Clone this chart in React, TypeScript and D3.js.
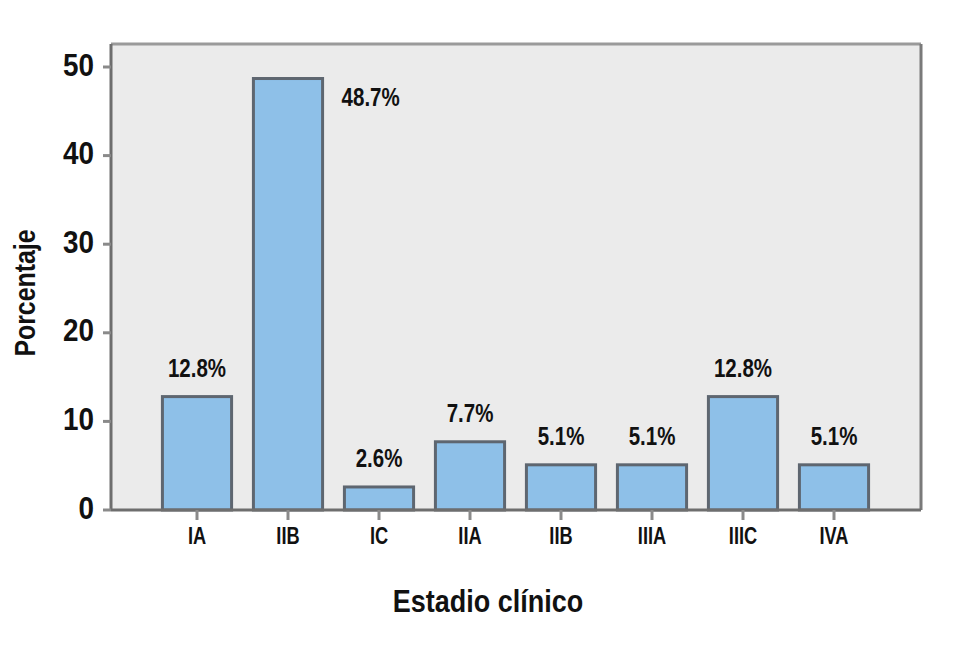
import React from "react";
import * as d3 from "d3";

const categories = ["IA", "IIB", "IC", "IIA", "IIB ", "IIIA", "IIIC", "IVA"];
const values = [12.8, 48.7, 2.6, 7.7, 5.1, 5.1, 12.8, 5.1];
const valueLabels = ["12.8%", "48.7%", "2.6%", "7.7%", "5.1%", "5.1%", "12.8%", "5.1%"];
const yTicks = [0, 10, 20, 30, 40, 50];

const FONT = "'Liberation Sans', Arial, Helvetica, sans-serif";

function Txt({ x, y, sx, size, anchor = "middle", rotate = 0, children }: any) {
  return (
    <text
      transform={`translate(${x},${y}) rotate(${rotate}) scale(${sx},1)`}
      textAnchor={anchor}
      fontFamily={FONT}
      fontWeight="bold"
      fontSize={size}
      fill="#111"
    >
      {children}
    </text>
  );
}

export default function App() {
  const W = 962, H = 654;
  const plotL = 111, plotR = 921, plotT = 44, plotB = 510;
  const y = d3.scaleLinear().domain([0, 50]).range([510, 67]);
  const x = d3.scaleBand<string>().domain(categories).range([151.5, 879.5]).paddingInner(0.24).paddingOuter(0.12);
  const bw = x.bandwidth();

  return (
    <svg width={W} height={H} style={{ position: "absolute", left: 0, top: 0, background: "#fff" }}>
      <rect x={plotL} y={plotT} width={plotR - plotL} height={plotB - plotT} fill="#ebebeb" />
      <line x1={plotL} x2={plotR} y1={plotT} y2={plotT} stroke="#9a9a9a" strokeWidth={3} />
      <line x1={plotR} x2={plotR} y1={plotT} y2={plotB} stroke="#7a7a7a" strokeWidth={3} />
      {categories.map((c, i) => (
        <rect key={c} x={x(c)!} y={y(values[i])} width={bw} height={y(0) - y(values[i])}
          fill="#8ec0e8" stroke="#5e6670" strokeWidth={3} />
      ))}
      <line x1={plotL} x2={plotR} y1={plotB} y2={plotB} stroke="#6e6e6e" strokeWidth={3} />
      <line x1={plotL} x2={plotL} y1={plotT} y2={plotB} stroke="#6e6e6e" strokeWidth={3} />
      {yTicks.map((t) => (
        <g key={t}>
          <line x1={103} x2={plotL} y1={y(t)} y2={y(t)} stroke="#8a8a8a" strokeWidth={3} />
          <Txt x={94} y={y(t) + 8.5} sx={0.87} size={32} anchor="end">{t}</Txt>
        </g>
      ))}
      {categories.map((c) => (
        <g key={"t" + c}>
          <line x1={x(c)! + bw / 2} x2={x(c)! + bw / 2} y1={plotB} y2={plotB + 10} stroke="#8a8a8a" strokeWidth={3} />
          <Txt x={x(c)! + bw / 2} y={544} sx={0.76} size={24}>{c.trim()}</Txt>
        </g>
      ))}
      {categories.map((c, i) => {
        const beside = values[i] > 45;
        return (
          <Txt key={"v" + c}
            x={beside ? x(c)! + bw + 19 : x(c)! + bw / 2}
            y={beside ? 106 : y(values[i]) - 19.5}
            anchor={beside ? "start" : "middle"}
            sx={0.82} size={25}>{valueLabels[i]}</Txt>
        );
      })}
      <Txt x={488} y={612} sx={0.87} size={31}>Estadio clínico</Txt>
      <Txt x={35} y={293} sx={0.83} size={30} rotate={-90}>Porcentaje</Txt>
    </svg>
  );
}
